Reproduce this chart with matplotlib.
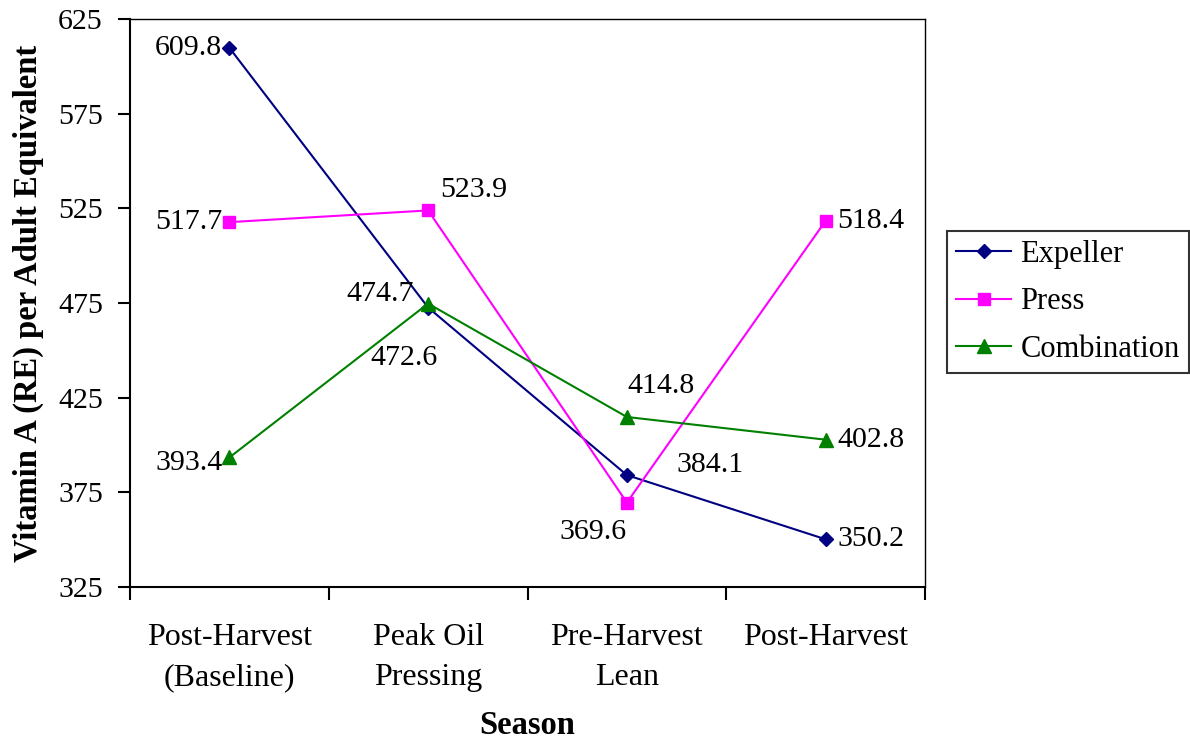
import matplotlib
matplotlib.use("Agg")
import matplotlib.pyplot as plt

seasons = ["Post-Harvest\n(Baseline)", "Peak Oil\nPressing", "Pre-Harvest\nLean", "Post-Harvest"]
expeller = [609.8, 472.6, 384.1, 350.2]
press = [517.7, 523.9, 369.6, 518.4]
combination = [393.4, 474.7, 414.8, 402.8]

# label offsets in pixels (dx, dy, ha)
exp_off = [(-7, 0, "right"), (-24, -50, "center"), (50, 10, "left"), (12, 0, "left")]
press_off = [(-7, 0, "right"), (12, 20, "left"), (-34, -29, "center"), (12, 0, "left")]
comb_off = [(-7, -6, "right"), (-14, 10, "right"), (0, 31, "left"), (12, 0, "left")]

plt.rcParams["font.family"] = ["Liberation Serif", "DejaVu Serif"]
FS = 21.5
FS_X = 23
FS_LEG = 22
FS_LAB = 23.5

fig = plt.figure(figsize=(11.9, 7.42), dpi=100)
ax = fig.add_axes([130 / 1190, 155 / 742, 795 / 1190, 568 / 742])

x = [0.5, 1.5, 2.5, 3.5]
series = [
    ("Expeller", expeller, "#000080", "D", 7, exp_off),
    ("Press", press, "#FF00FF", "s", 9, press_off),
    ("Combination", combination, "#008000", "^", 10, comb_off),
]
for name, vals, col, mk, ms, offs in series:
    ax.plot(x, vals, color=col, marker=mk, markersize=ms, linewidth=1.5,
            markerfacecolor=col, markeredgecolor=col, label=name, clip_on=False)
    for xi, v, (dx, dy, ha) in zip(x, vals, offs):
        ax.annotate(f"{v:.1f}", (xi, v), xytext=(dx, dy), textcoords="offset pixels",
                    ha=ha, va="center", fontsize=FS, color="black")

ax.set_xlim(0, 4)
ax.set_ylim(325, 625)
ax.set_yticks(range(325, 626, 50))
ax.set_xticks([0, 1, 2, 3, 4])
ax.set_xticklabels([])
ax.set_xticks(x, minor=True)
ax.set_xticklabels(seasons, minor=True, fontsize=FS_X, linespacing=1.5)
ax.tick_params(axis="x", which="minor", length=0, pad=26)
ax.tick_params(axis="x", which="major", direction="out", length=9, width=1.5)
ax.tick_params(axis="y", direction="out", length=8.6, width=1.5, labelsize=FS, pad=11)
for s in ax.spines.values():
    s.set_linewidth(1.5)
    s.set_color("black")
ax.spines["top"].set_linewidth(1.0)
ax.spines["right"].set_linewidth(1.0)

ax.set_ylabel("Vitamin A (RE) per Adult Equivalent", fontsize=FS_LAB, fontweight="bold", labelpad=10)
ax.set_xlabel("Season", fontsize=FS_LAB, fontweight="bold", labelpad=13)

leg = ax.legend(loc="center left", bbox_to_anchor=(947 / 1190, (742 - 302) / 742),
                bbox_transform=fig.transFigure, fontsize=FS_LEG, frameon=True,
                fancybox=False, edgecolor="black", handlelength=1.8,
                borderpad=0.3, labelspacing=0.6, handletextpad=0.3,
                borderaxespad=0)
leg.get_frame().set_linewidth(1.5)

fig.savefig("out.png", dpi=100)
